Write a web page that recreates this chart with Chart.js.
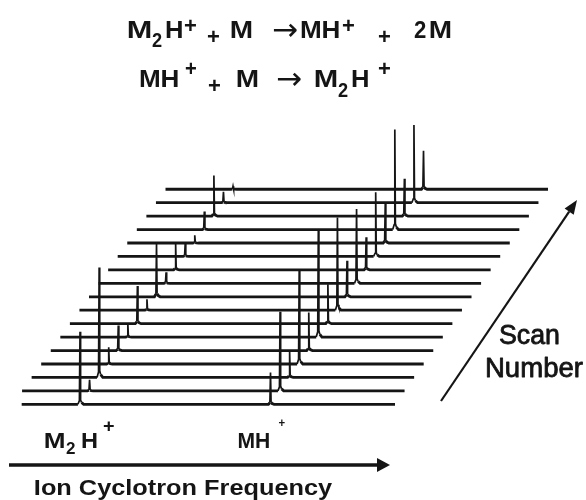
<!DOCTYPE html>
<html>
<head>
<meta charset="utf-8">
<script src="https://cdn.jsdelivr.net/npm/chart.js@4"></script>
<style>
  html, body { margin: 0; padding: 0; background: #ffffff; }
  #wrap { width: 586px; height: 500px; }
</style>
</head>
<body>
<div id="wrap"><canvas id="c" width="586" height="500"></canvas></div>
<script>
// ---------------- DATA ----------------
// Scan numbers (bottom = first scan)
const scanNumbers = [1, 2, 3, 4, 5, 6, 7, 8, 9, 10, 11, 12, 13, 14, 15, 16, 17];
// Ion cyclotron frequency window of every scan (arbitrary units)
const freqRange = [0, 100];
const firstScanStartFreq = 2.4;          // the first scan starts a little later
// Peak positions (arbitrary frequency units)
const peakNames = ["M\u2082H\u207A", "MH\u207A"];
const peakFreqs = [17.65, 67.45];
// Peak heights per scan (arbitrary intensity units)
const m2hHeights = [72.6, 11, 110, 16.7, 25, 13.3, 37.7, 11, 52.7, 11, 26, 12.7, 7.7, 18, 40.7, 11, 3];
const mhHeights  = [31.7, 79, 26, 93.3, 38, 106, 39.4, 92.6, 36, 74.4, 32.6, 64.3, 39.4, 100, 37.4, 77.7, 38.6];
// Peak line shape: frequency offsets and fraction of the peak height
const shapeOffsets   = [-0.55, -0.16, 0, 0.15, 0.4, 0.95];
const shapeFractions = [0, 0.05, 1, 0.06, 0.025, 0];

// ---------------- waterfall projection ----------------
const scanDx = 2.5;     // frequency units each scan is shifted right
const scanDy = 13.44;   // intensity units each scan is lifted

function buildScan(i) {
  const pts = [];
  const off = i * scanDx, lift = i * scanDy;
  const start = i === 0 ? firstScanStartFreq : freqRange[0];
  pts.push({ x: start + off, y: lift });
  const heights = [m2hHeights[i], mhHeights[i]];
  peakFreqs.forEach((pf, k) => {
    shapeOffsets.forEach((o, j) => {
      pts.push({ x: pf + o + off, y: lift + heights[k] * shapeFractions[j] });
    });
  });
  pts.push({ x: freqRange[1] + off, y: lift });
  return pts;
}

const datasets = scanNumbers.map((s, i) => ({
  label: 'Scan ' + s,
  data: buildScan(i),
  borderColor: '#151515',
  borderWidth: 2.8,
  pointRadius: 0,
  tension: 0,
  fill: false,
  segment: {
    borderWidth: ctx => {
      const dx = Math.abs(ctx.p1.x - ctx.p0.x), dy = Math.abs(ctx.p1.y - ctx.p0.y);
      return dy > 2 * dx ? 1.7 : 2.8;
    }
  }
}));

// ---------------- text / arrows plugin ----------------
const SANS = "'Liberation Sans', Arial, sans-serif";
function ink(ctx, text, font, left, top, width, strokeW) {
  ctx.save();
  ctx.font = font;
  ctx.textAlign = 'left';
  ctx.textBaseline = 'alphabetic';
  const m = ctx.measureText(text);
  const w0 = m.actualBoundingBoxLeft + m.actualBoundingBoxRight;
  let sx = 1;
  if (width) sx = width / w0;
  ctx.translate(left, top + m.actualBoundingBoxAscent);
  ctx.scale(sx, 1);
  ctx.fillText(text, m.actualBoundingBoxLeft, 0);
  if (strokeW) {
    ctx.strokeStyle = ctx.fillStyle;
    ctx.lineWidth = strokeW;
    ctx.lineJoin = 'round';
    ctx.strokeText(text, m.actualBoundingBoxLeft, 0);
  }
  ctx.restore();
}
function inkMid(ctx, text, font, left, midY, width) {
  ctx.save();
  ctx.font = font;
  const m = ctx.measureText(text);
  const h = m.actualBoundingBoxAscent + m.actualBoundingBoxDescent;
  ctx.restore();
  ink(ctx, text, font, left, midY - h / 2, width);
}
function arrow(ctx, x0, y0, x1, y1, lw, headLen, headHalf) {
  const a = Math.atan2(y1 - y0, x1 - x0);
  const bx = x1 - headLen * Math.cos(a), by = y1 - headLen * Math.sin(a);
  ctx.save();
  ctx.strokeStyle = '#151515';
  ctx.fillStyle = '#151515';
  ctx.lineWidth = lw;
  ctx.beginPath(); ctx.moveTo(x0, y0); ctx.lineTo(bx, by); ctx.stroke();
  ctx.beginPath();
  ctx.moveTo(x1, y1);
  ctx.lineTo(bx + headHalf * Math.sin(a), by - headHalf * Math.cos(a));
  ctx.lineTo(bx - headHalf * Math.sin(a), by + headHalf * Math.cos(a));
  ctx.closePath(); ctx.fill();
  ctx.restore();
}

const labelsPlugin = {
  id: 'labels',
  afterDraw(chart) {
    const ctx = chart.ctx;
    ctx.fillStyle = '#151515';
    const B24 = 'bold 24px ' + SANS, B20 = 'bold 20px ' + SANS, B22 = 'bold 22px ' + SANS;
    const ARR = "31px 'DejaVu Sans'";
    // Title line 1: M2H+ + M -> MH+ + 2 M
    ink(ctx, 'M', B24, 128, 21, 23);
    ink(ctx, '2', B20, 152, 33, 10);
    ink(ctx, 'H', B24, 166, 21, 16);
    ink(ctx, '+', B22, 184, 19, 12);
    ink(ctx, '+', B22, 207, 30, 12);
    ink(ctx, 'M', B24, 231, 21, 21);
    inkMid(ctx, '\u2192', ARR, 273, 30, 24);
    ink(ctx, 'MH', B24, 301, 21, 38);
    ink(ctx, '+', B22, 342, 19, 12);
    ink(ctx, '+', B22, 378, 30, 12);
    ink(ctx, '2', B24, 414, 21, 12);
    ink(ctx, 'M', B24, 430, 21, 21);
    // Title line 2: MH+ + M -> M2H+
    ink(ctx, 'MH', B24, 140, 70, 38);
    ink(ctx, '+', B22, 185, 62, 11);
    ink(ctx, '+', B22, 208, 79, 12);
    ink(ctx, 'M', B24, 237, 70, 21);
    inkMid(ctx, '\u2192', ARR, 277, 79, 24);
    ink(ctx, 'M', B24, 315, 70, 22);
    ink(ctx, '2', B20, 338, 83, 10);
    ink(ctx, 'H', B24, 352, 70, 16);
    ink(ctx, '+', B22, 378, 62, 12);

    // peak labels under the traces (positions from the scales)
    const xs = chart.scales.x;
    const m2hx = xs.getPixelForValue(peakFreqs[0]);
    const mhx = xs.getPixelForValue(peakFreqs[1]);
    ink(ctx, 'M', B22, m2hx - 35, 433, 19);
    ink(ctx, '2', 'bold 17px ' + SANS, m2hx - 14, 442, 9);
    ink(ctx, 'H', B22, m2hx + 2, 433, 15);
    ink(ctx, '+', 'bold 18px ' + SANS, m2hx + 23, 421, 11);
    ink(ctx, 'MH', B22, mhx - 32, 433, 31);
    ink(ctx, '+', 'bold 13px ' + SANS, mhx + 8, 419, 7);

    // frequency arrow + title
    arrow(ctx, 9, 465, 390, 465, 3.5, 13, 7);
    ink(ctx, 'Ion Cyclotron Frequency', B22, 35, 479, 298);

    // scan-number arrow + title
    arrow(ctx, 441, 401, 577, 200, 2.2, 14, 5.5);
    ink(ctx, 'Scan', '27px ' + SANS, 500, 325, 59, 0.8);
    ink(ctx, 'Number', '27px ' + SANS, 487, 357, 96, 0.8);
  }
};

new Chart(document.getElementById('c'), {
  type: 'line',
  data: { datasets },
  options: {
    responsive: false,
    animation: false,
    devicePixelRatio: 1,
    layout: { padding: 0 },
    plugins: { legend: { display: false }, tooltip: { enabled: false } },
    scales: {
      x: { type: 'linear', min: -3.27, max: 149.93, display: false },
      y: { type: 'linear', min: -95.7, max: 404.3, display: false }
    }
  },
  plugins: [labelsPlugin]
});
</script>
</body>
</html>
